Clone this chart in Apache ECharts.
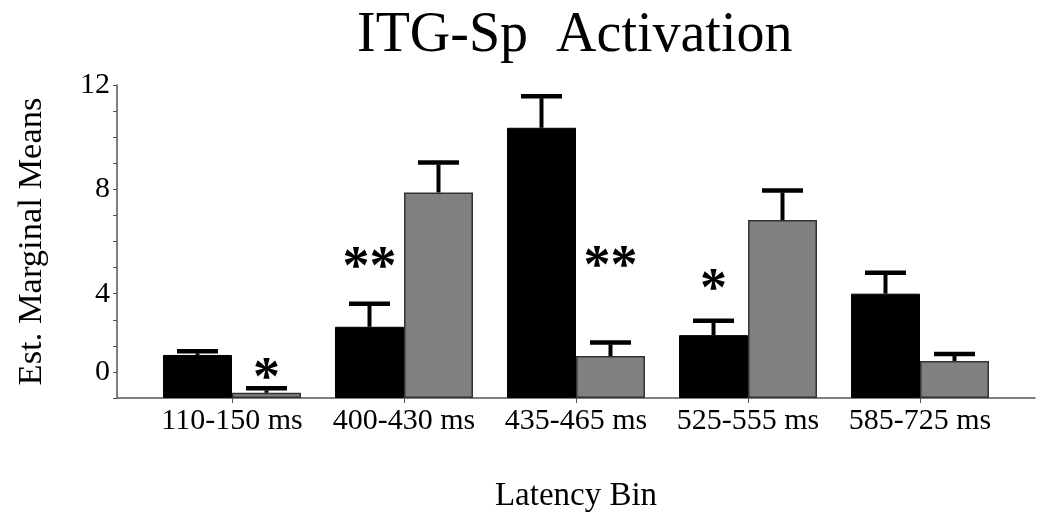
<!DOCTYPE html>
<html>
<head>
<meta charset="utf-8">
<script src="https://cdn.jsdelivr.net/npm/echarts@6/dist/echarts.min.js"></script>
<style>
  html, body { margin: 0; background: #fff; }
  #chart { width: 1050px; height: 518px; }
</style>
</head>
<body>
<div id="chart"></div>
<script>
const categories = ['110-150 ms', '400-430 ms', '435-465 ms', '525-555 ms', '585-725 ms'];
const blackMeans = [1.65, 2.73, 10.36, 2.41, 4.0];
const blackErrTop = [1.79, 3.61, 11.57, 2.96, 4.8];
const grayMeans = [0.2, 7.88, 1.61, 6.82, 1.42];
const grayErrTop = [0.37, 9.03, 2.13, 7.96, 1.69];
// tick labels as printed on the y axis (value -> text)
const yTickLabels = { 12: '12', 8: '8', 4: '4', 1: '0' };
// significance marks: bin, which bar (-1 black, 1 gray), height, text
const sigBin = [0, 1, 2, 3];
const sigSide = [1, -1, 1, -1];
const sigY = [1.15, 5.41, 5.45, 4.56];
const sigText = ['*', '**', '**', '*'];

const FONT = 'Liberation Serif';
const BAR_W = 69;
const X_PAD = 0.6686;

function errorSeries(means, tops, side) {
  return {
    type: 'custom',
    silent: true,
    z: 3,
    data: means.map((m, i) => [i, m, tops[i]]),
    encode: { x: 0, y: [1, 2] },
    renderItem: (params, api) => {
      const base = api.coord([api.value(0), api.value(1)]);
      const top = api.coord([api.value(0), api.value(2)]);
      const cx = base[0] + side * BAR_W / 2;
      return {
        type: 'group',
        children: [
          { type: 'line', shape: { x1: cx, y1: base[1], x2: cx, y2: top[1] + 2 },
            style: { stroke: '#000', lineWidth: 4 } },
          { type: 'line', shape: { x1: cx - 20.5, y1: top[1], x2: cx + 20.5, y2: top[1] },
            style: { stroke: '#000', lineWidth: 4.5 } }
        ]
      };
    }
  };
}

const chart = echarts.init(document.getElementById('chart'));
chart.setOption({
  animation: false,
  title: {
    text: 'ITG-Sp  Activation',
    left: 352,
    top: 3,
    textStyle: { fontFamily: FONT, fontSize: 56, fontWeight: 'normal', color: '#000' }
  },
  grid: { left: 117, right: 15, top: 85, bottom: 120, outerBoundsMode: 'none' },
  xAxis: {
    type: 'value',
    min: -X_PAD,
    max: 4 + X_PAD,
    name: 'Latency Bin',
    nameLocation: 'middle',
    nameGap: 82,
    nameTextStyle: { fontFamily: FONT, fontSize: 33, color: '#000' },
    axisLine: { onZero: false, lineStyle: { color: '#555', width: 1.5 } },
    axisTick: { show: true, customValues: [0, 1, 2, 3, 4], length: 5, lineStyle: { color: '#555' } },
    axisLabel: {
      customValues: [0, 1, 2, 3, 4],
      formatter: v => categories[Math.round(v)],
      fontFamily: FONT, fontSize: 30, color: '#000', margin: 8
    },
    splitLine: { show: false }
  },
  yAxis: {
    type: 'value',
    min: 0,
    max: 12,
    interval: 1,
    name: 'Est. Marginal Means',
    nameLocation: 'middle',
    nameRotate: 90,
    nameGap: 68,
    nameTextStyle: { fontFamily: FONT, fontSize: 34.5, color: '#000' },
    axisLine: { show: true, onZero: false, lineStyle: { color: '#555', width: 1.5 } },
    axisTick: { show: true, length: 4, lineStyle: { color: '#555' } },
    axisLabel: {
      formatter: v => yTickLabels[v] || '',
      fontFamily: FONT, fontSize: 30, color: '#000', margin: 7
    },
    splitLine: { show: false }
  },
  series: [
    {
      type: 'bar',
      data: blackMeans.map((v, i) => [i, v]),
      barWidth: BAR_W,
      barGap: '0%',
      itemStyle: { color: '#000', borderColor: '#000', borderWidth: 1 },
      z: 2
    },
    {
      type: 'bar',
      data: grayMeans.map((v, i) => [i, v]),
      barWidth: BAR_W,
      barGap: '0%',
      itemStyle: { color: '#808080', borderColor: '#333', borderWidth: 1.5 },
      z: 2
    },
    errorSeries(blackMeans, blackErrTop, -1),
    errorSeries(grayMeans, grayErrTop, 1),
    {
      type: 'custom',
      silent: true,
      z: 4,
      data: sigBin.map((b, i) => [b, sigY[i], sigSide[i], sigText[i]]),
      encode: { x: 0, y: 1 },
      renderItem: (params, api) => {
        const p = api.coord([api.value(0), api.value(1)]);
        return {
          type: 'text',
          style: {
            text: sigText[params.dataIndex],
            x: p[0] + api.value(2) * BAR_W / 2,
            y: p[1] + 12,
            align: 'center',
            verticalAlign: 'middle',
            font: 'bold 54px "' + FONT + '"',
            fill: '#000'
          }
        };
      }
    }
  ]
});
</script>
</body>
</html>
